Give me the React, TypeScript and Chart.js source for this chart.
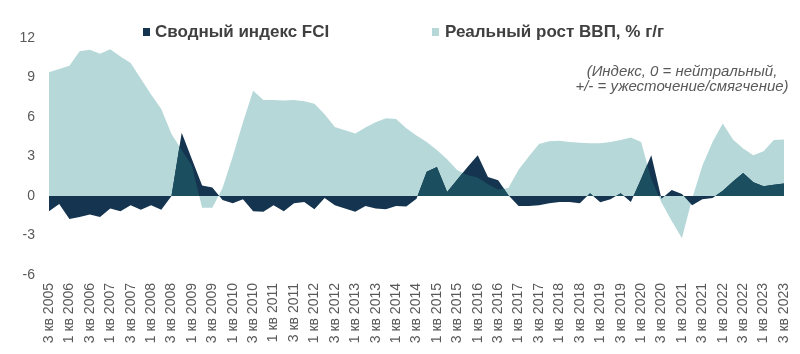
import React, { useEffect, useRef } from "react";
import { Chart, registerables } from "chart.js";

Chart.register(...registerables);

const QUARTER_LABELS = [
  "3 кв 2005", "4 кв 2005",
  "1 кв 2006", "2 кв 2006", "3 кв 2006", "4 кв 2006",
  "1 кв 2007", "2 кв 2007", "3 кв 2007", "4 кв 2007",
  "1 кв 2008", "2 кв 2008", "3 кв 2008", "4 кв 2008",
  "1 кв 2009", "2 кв 2009", "3 кв 2009", "4 кв 2009",
  "1 кв 2010", "2 кв 2010", "3 кв 2010", "4 кв 2010",
  "1 кв 2011", "2 кв 2011", "3 кв 2011", "4 кв 2011",
  "1 кв 2012", "2 кв 2012", "3 кв 2012", "4 кв 2012",
  "1 кв 2013", "2 кв 2013", "3 кв 2013", "4 кв 2013",
  "1 кв 2014", "2 кв 2014", "3 кв 2014", "4 кв 2014",
  "1 кв 2015", "2 кв 2015", "3 кв 2015", "4 кв 2015",
  "1 кв 2016", "2 кв 2016", "3 кв 2016", "4 кв 2016",
  "1 кв 2017", "2 кв 2017", "3 кв 2017", "4 кв 2017",
  "1 кв 2018", "2 кв 2018", "3 кв 2018", "4 кв 2018",
  "1 кв 2019", "2 кв 2019", "3 кв 2019", "4 кв 2019",
  "1 кв 2020", "2 кв 2020", "3 кв 2020", "4 кв 2020",
  "1 кв 2021", "2 кв 2021", "3 кв 2021", "4 кв 2021",
  "1 кв 2022", "2 кв 2022", "3 кв 2022", "4 кв 2022",
  "1 кв 2023", "2 кв 2023", "3 кв 2023",
];

const FCI = [
  -1.15, -0.6,
  -1.75, -1.6, -1.4, -1.6,
  -0.95, -1.15, -0.7, -1.05,
  -0.7, -1.05, 0.0, 4.8,
  2.8, 0.8, 0.65, -0.3,
  -0.55, -0.25, -1.15, -1.2,
  -0.7, -1.15, -0.55, -0.45,
  -1.0, -0.15, -0.7, -0.95,
  -1.2, -0.75, -0.95, -1.0,
  -0.75, -0.8, -0.2, 1.85,
  2.2, 0.3, 1.25, 2.2,
  3.1, 1.45, 1.2, 0.05,
  -0.75, -0.75, -0.7, -0.55,
  -0.45, -0.45, -0.55, 0.2,
  -0.48, -0.25, 0.2, -0.45,
  1.3, 3.1, -0.2, 0.45,
  0.15, -0.7, -0.25, -0.15,
  0.4, 1.1, 1.75, 1.05,
  0.75, 0.85, 0.95,
];

const GDP = [
  9.4, 9.65,
  9.9, 11.0, 11.1, 10.8,
  11.15, 10.6, 10.1, 8.9,
  7.7, 6.6, 4.7, 3.5,
  2.3, -0.9, -0.9, 0.6,
  3.0, 5.6, 8.0, 7.3,
  7.3, 7.25, 7.3, 7.2,
  7.0, 6.2, 5.25, 5.0,
  4.75, 5.2, 5.6, 5.9,
  5.85, 5.15, 4.6, 4.1,
  3.5, 2.8, 1.95, 1.6,
  1.4, 0.9, 0.5, 0.6,
  2.0, 3.0, 3.95, 4.15,
  4.2, 4.1, 4.05, 4.0,
  4.0, 4.1, 4.25, 4.45,
  4.1, 1.3, -0.5, -1.9,
  -3.2, -0.2, 2.3, 4.1,
  5.5, 4.3, 3.6, 3.1,
  3.4, 4.25, 4.3,
];

const SERIES_NAMES = ["Сводный индекс FCI", "Реальный рост ВВП, % г/г"];
const NOTE_LINES = ["(Индекс, 0 = нейтральный,", "+/- = ужесточение/смягчение)"];
const Y_MIN = -6;
const Y_MAX = 12;
const Y_STEP = 3;

const COLORS = {
  fci: "#15344f",
  gdp: "#b6d8d9",
  overlap: "#1b4e5e",
  tick: "#595959",
  legend: "#404040",
};
const FONT = "'Liberation Sans', Arial, sans-serif";

const overlapPlugin = {
  id: "overlapFill",
  afterDatasetsDraw(chart: any) {
    const ctx = chart.ctx as CanvasRenderingContext2D;
    const area = chart.chartArea;
    const y0 = chart.scales.y.getPixelForValue(0);
    const fciPts = chart.getDatasetMeta(0).data;
    const gdpPts = chart.getDatasetMeta(1).data;
    const poly = (pts: any[]) => {
      ctx.beginPath();
      ctx.moveTo(pts[0].x, y0);
      pts.forEach((p) => ctx.lineTo(p.x, p.y));
      ctx.lineTo(pts[pts.length - 1].x, y0);
      ctx.closePath();
    };
    ctx.save();
    ctx.beginPath();
    ctx.rect(area.left, area.top, area.right - area.left, y0 - area.top);
    ctx.clip();
    poly(gdpPts);
    ctx.clip();
    poly(fciPts);
    ctx.fillStyle = COLORS.overlap;
    ctx.fill();
    ctx.restore();
  },
};

const textPlugin = {
  id: "legendAndNote",
  afterDraw(chart: any) {
    const ctx = chart.ctx as CanvasRenderingContext2D;
    ctx.save();
    const slots = [
      { box: 143, text: 155 },
      { box: 432, text: 445 },
    ];
    chart.data.datasets.forEach((ds: any, i: number) => {
      ctx.fillStyle = ds.backgroundColor;
      ctx.fillRect(slots[i].box, 28, 7, 8);
      ctx.font = `bold 17px ${FONT}`;
      ctx.fillStyle = COLORS.legend;
      ctx.textAlign = "left";
      ctx.textBaseline = "alphabetic";
      ctx.fillText(ds.label, slots[i].text, 37);
    });
    ctx.font = `italic 15px ${FONT}`;
    ctx.fillStyle = COLORS.tick;
    ctx.textAlign = "center";
    NOTE_LINES.forEach((line, k) => ctx.fillText(line, 682, 76 + k * 15));
    ctx.restore();
  },
};

export default function App() {
  const ref = useRef<HTMLCanvasElement | null>(null);

  useEffect(() => {
    document.body.style.margin = "0";
    document.body.style.overflow = "hidden";
    if (!ref.current) return;
    const chart = new Chart(ref.current, {
      type: "line",
      data: {
        labels: QUARTER_LABELS,
        datasets: [
          {
            label: SERIES_NAMES[0],
            data: FCI,
            backgroundColor: COLORS.fci,
            borderColor: "rgba(0,0,0,0)",
            borderWidth: 0,
            fill: "origin",
            pointRadius: 0,
            tension: 0,
          },
          {
            label: SERIES_NAMES[1],
            data: GDP,
            backgroundColor: COLORS.gdp,
            borderColor: "rgba(0,0,0,0)",
            borderWidth: 0,
            fill: "origin",
            pointRadius: 0,
            tension: 0,
          },
        ],
      },
      options: {
        animation: false,
        responsive: false,
        maintainAspectRatio: false,
        layout: { padding: { top: 38, right: 16, left: 0, bottom: 0 } },
        plugins: {
          legend: { display: false },
          tooltip: { enabled: false },
        },
        scales: {
          x: {
            type: "category",
            offset: false,
            grid: { display: false, drawTicks: false },
            border: { display: false },
            ticks: {
              autoSkip: false,
              maxRotation: 90,
              minRotation: 90,
              padding: 8,
              color: COLORS.tick,
              font: { family: FONT, size: 14 },
              callback: (_v: any, i: number) => (i % 2 === 0 ? QUARTER_LABELS[i] : ""),
            },
            afterFit: (s: any) => {
              s.height = 79;
              s.paddingLeft = 0;
              s.paddingRight = 0;
            },
          },
          y: {
            min: Y_MIN,
            max: Y_MAX,
            grid: { display: false, drawTicks: false },
            border: { display: false },
            ticks: {
              stepSize: Y_STEP,
              padding: 14,
              color: COLORS.tick,
              font: { family: FONT, size: 14 },
            },
            afterFit: (s: any) => {
              s.width = 49;
              s.paddingTop = 0;
              s.paddingBottom = 0;
            },
          },
        },
      },
      plugins: [overlapPlugin, textPlugin],
    });
    return () => chart.destroy();
  }, []);

  return (
    <div style={{ width: 800, height: 354 }}>
      <canvas ref={ref} width={800} height={354} style={{ display: "block" }} />
    </div>
  );
}
